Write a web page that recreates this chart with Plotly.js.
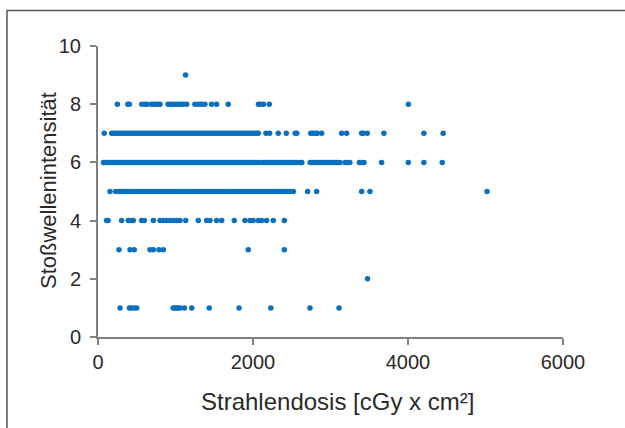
<!DOCTYPE html>
<html>
<head>
<meta charset="utf-8">
<script src="https://cdn.plot.ly/plotly-3.0.1.min.js"></script>
<style>html,body{margin:0;padding:0;background:#fff;}#chart{width:625px;height:428px;}</style>
</head>
<body>
<div id="chart"></div>
<script>
// Strahlendosis values (cGy x cm²) for each Stoßwellenintensität level
const dose9 = [1130];
const dose8 = [250, 385, 405, 565, 605, 635, 690, 720, 750, 780, 800, 905, 935, 970, 1005, 1035, 1065, 1100, 1145, 1250, 1295, 1335, 1380, 1465, 1530, 1680, 2070, 2100, 2135, 2210, 4005];
const dose7 = [80, 176, 205, 233, 262, 290, 318, 347, 375, 404, 432, 460, 489, 517, 546, 574, 602, 631, 659, 688, 716, 744, 773, 801, 830, 858, 886, 915, 943, 972, 1000, 1028, 1057, 1085, 1114, 1142, 1170, 1199, 1227, 1256, 1284, 1312, 1341, 1369, 1398, 1426, 1454, 1483, 1511, 1540, 1568, 1596, 1625, 1653, 1682, 1710, 1738, 1767, 1795, 1824, 1852, 1880, 1909, 1937, 1966, 1994, 2022, 2050, 2068, 2167, 2215, 2326, 2430, 2545, 2565, 2745, 2770, 2800, 2830, 2886, 3144, 3208, 3402, 3423, 3474, 3689, 4205, 4454];
const dose6 = [70, 98, 127, 155, 184, 212, 240, 268, 297, 325, 354, 382, 410, 438, 467, 495, 524, 552, 580, 608, 637, 665, 694, 722, 750, 778, 807, 835, 864, 892, 920, 948, 977, 1005, 1034, 1062, 1090, 1118, 1147, 1175, 1204, 1232, 1260, 1288, 1317, 1345, 1374, 1402, 1430, 1458, 1487, 1515, 1544, 1572, 1600, 1628, 1657, 1685, 1714, 1742, 1770, 1798, 1827, 1855, 1884, 1912, 1940, 1968, 1997, 2025, 2054, 2080, 2125, 2150, 2178, 2205, 2232, 2260, 2288, 2315, 2342, 2370, 2398, 2425, 2452, 2480, 2508, 2535, 2562, 2590, 2618, 2630, 2738, 2765, 2792, 2820, 2848, 2875, 2902, 2930, 2958, 2985, 3012, 3040, 3068, 3095, 3122, 3187, 3215, 3250, 3372, 3400, 3432, 3660, 4004, 4205, 4442];
const dose5 = [155, 228, 271, 305, 340, 375, 410, 445, 480, 515, 550, 585, 620, 655, 690, 725, 760, 795, 830, 865, 900, 935, 970, 1005, 1040, 1075, 1110, 1145, 1180, 1215, 1250, 1285, 1320, 1355, 1390, 1425, 1460, 1495, 1530, 1565, 1600, 1635, 1670, 1705, 1740, 1775, 1810, 1845, 1880, 1915, 1950, 1985, 2020, 2055, 2090, 2125, 2160, 2195, 2230, 2265, 2300, 2335, 2370, 2405, 2440, 2475, 2520, 2705, 2821, 3402, 3509, 5020];
const dose4 = [110, 130, 305, 391, 426, 455, 563, 597, 714, 800, 843, 886, 929, 972, 1015, 1058, 1131, 1294, 1402, 1445, 1531, 1596, 1758, 1896, 1961, 2004, 2068, 2111, 2175, 2261, 2404];
const dose3 = [271, 413, 468, 671, 714, 787, 843, 1939, 2404];
const dose2 = [3478];
const dose1 = [285, 405, 435, 470, 500, 970, 995, 1015, 1035, 1060, 1115, 1210, 1435, 1820, 2230, 2735, 3110];

const levels = [9, 8, 7, 6, 5, 4, 3, 2, 1];
const doses = [dose9, dose8, dose7, dose6, dose5, dose4, dose3, dose2, dose1];

const xTicks = [0, 2000, 4000, 6000];
const yTicks = [0, 2, 4, 6, 8, 10];
const xTitle = 'Strahlendosis [cGy x cm²]';
const yTitle = 'Stoßwellenintensität';

const xs = [], ys = [];
levels.forEach((lv, i) => {
  doses[i].forEach(d => { xs.push(d); ys.push(lv); });
});

const trace = {
  type: 'scatter', mode: 'markers', x: xs, y: ys,
  marker: {color: '#0a6fbf', size: 5.5, line: {width: 0}},
  hoverinfo: 'x+y', cliponaxis: false
};

const FONT = 'Liberation Sans, Arial, sans-serif';
const TXT = '#2a2a2a';
const axisCommon = {
  showline: true, linecolor: '#808080', linewidth: 2,
  ticks: 'outside', ticklen: 6, tickwidth: 2, tickcolor: '#808080',
  showgrid: false, zeroline: false,
  tickfont: {family: FONT, size: 20, color: TXT}
};

const layout = {
  width: 625, height: 428,
  margin: {l: 98, r: 62, t: 46, b: 91},
  paper_bgcolor: '#fff', plot_bgcolor: '#fff',
  showlegend: false,
  xaxis: Object.assign({}, axisCommon, {
    range: [0, 6000], tickvals: xTicks, ticktext: xTicks.map(String)
  }),
  yaxis: Object.assign({}, axisCommon, {
    range: [0, 10], tickvals: yTicks, ticktext: yTicks.map(String),
    ticklabelstandoff: 5
  }),
  annotations: [
    {text: xTitle, xref: 'paper', yref: 'paper', x: 0.515, y: -0.22,
     xanchor: 'center', yanchor: 'middle', showarrow: false,
     font: {family: FONT, size: 24, color: TXT}},
    {text: yTitle, xref: 'paper', yref: 'paper', x: -0.1075, y: 0.5017,
     xanchor: 'center', yanchor: 'middle', showarrow: false, textangle: -90,
     font: {family: FONT, size: 22, color: TXT}}
  ],
  shapes: [{
    type: 'path', xref: 'paper', yref: 'paper',
    path: 'M -0.1957,-0.4 L -0.1957,1.1220 L 1.3,1.1220',
    line: {color: '#555', width: 1.5}
  }]
};

Plotly.newPlot('chart', [trace], layout, {displayModeBar: false, staticPlot: true});
</script>
</body>
</html>
